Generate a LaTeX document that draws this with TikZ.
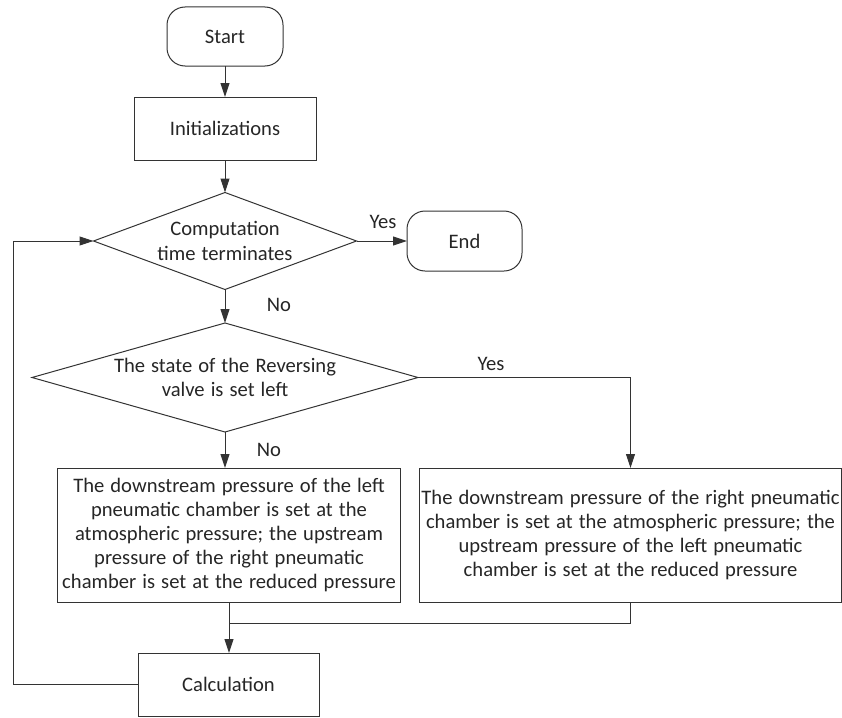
\documentclass[tikz,border=0pt]{standalone}
\usepackage{fontspec}
\setmainfont{Carlito}[WordSpace=1.3]
\usepackage{tikz}
\usetikzlibrary{positioning, arrows.meta, shapes.geometric}

\definecolor{linea}{HTML}{333333}
\definecolor{testo}{HTML}{262626}

\tikzset{
    base/.style={draw=linea, line width=1pt, inner sep=0pt, outer sep=0pt,
        align=center, text=testo, font=\fontsize{20.6}{24.2}\selectfont},
    terminale/.style={base, rectangle, rounded corners=18pt},
    blocco/.style={base, rectangle},
    scelta/.style={base, diamond},
    etichetta/.style={text=testo, font=\fontsize{20.6}{24.2}\selectfont, inner sep=0pt},
    freccia/.style={draw=linea, line width=1pt, -{Triangle[length=14pt,width=9pt]}},
    linea/.style={draw=linea, line width=1pt}
}

\begin{document}
\begin{tikzpicture}[x=1pt, y=-1pt]

    \useasboundingbox (0,0) rectangle (842,717);

    % nodi
    \node[terminale, minimum width=116, minimum height=59] (start) at (225,36.5) {Start};
    \node[blocco, minimum width=182, minimum height=63] (init) at (225,128.5) {Initializations};
    \node[scelta, aspect=2.71, minimum width=263, minimum height=97] (tempo) at (225,241)
        {Computation\\time terminates};
    \node[terminale, minimum width=115, minimum height=60] (end) at (464.5,241) {End};
    \node[scelta, aspect=3.54, minimum width=386, minimum height=109] (valvola) at (225,377.5)
        {The state of the Reversing\\valve is set left};
    \node[blocco, minimum width=343, minimum height=134] (sinistra) at (229,535)
        {The downstream pressure of the left\\pneumatic chamber is set at the\\atmospheric pressure; the upstream\\pressure of the right pneumatic\\chamber is set at the reduced pressure};
    \node[blocco, minimum width=422, minimum height=134] (destra) at (630.5,535)
        {The downstream pressure of the right pneumatic\\chamber is set at the atmospheric pressure; the\\upstream pressure of the left pneumatic\\chamber is set at the reduced pressure};
    \node[blocco, minimum width=181, minimum height=63] (calcolo) at (228.5,684.5) {Calculation};

    % etichette
    \node[etichetta] (si1) at (383,222) {Yes};
    \node[etichetta] (no1) at (279,305) {No};
    \node[etichetta] (si2) at (491,364) {Yes};
    \node[etichetta] (no2) at (269,450) {No};

    % punti di appoggio
    \coordinate (giunto) at (229,623);
    \coordinate (ritorno) at (13,0);

    % frecce
    \draw[freccia] (start) -- (init);
    \draw[freccia] (init) -- (tempo);
    \draw[freccia] (tempo.east) -- (end.west);
    \draw[freccia] (tempo) -- (valvola);
    \draw[freccia] (valvola.east) -| (destra.north);
    \draw[freccia] (valvola.south) -- (valvola.south |- sinistra.north);
    \draw[linea] (destra.south) |- (giunto);
    \draw[freccia] (sinistra.south) -- (sinistra.south |- calcolo.north);
    \draw[freccia] (calcolo.west) -- (calcolo.west -| ritorno) |- (tempo.west);

\end{tikzpicture}
\end{document}
